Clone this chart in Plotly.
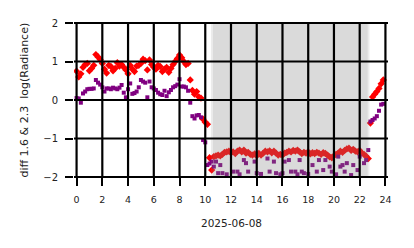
import plotly.graph_objects as go

# time grid (hours of 2025-06-08), 10-minute steps
hours = [i / 6 for i in range(144)]

red_vals = [
    # 0:00 - 9:50
    0.75, 0.60, 0.68, 0.85, 0.92, 0.95, 0.76, 0.82, 0.90, 1.18, 1.12, 1.05,
    0.95, 0.80, 0.70, 0.90, 0.87, 0.76, 0.82, 0.97, 0.88, 0.92, 0.85, 0.78,
    0.68, 0.90, 0.80, 0.74, 0.88, 0.90, 0.95, 1.06, 1.02, 0.78, 1.04, 0.92,
    0.85, 0.80, 0.90, 0.87, 0.74, 0.80, 0.85, 0.72, 0.82, 0.92, 1.00, 1.08,
    1.17, 1.10, 1.00, 0.92, 0.95, 0.52, 0.25, 0.15, 0.22, 0.08, 0.05, -0.50,
    # 10:00 - 10:30
    -0.58, -0.63, -1.50, -1.82,
    # night band 10:40 - 22:30
    -1.47, -1.45, -1.43, -1.45,
    -1.41, -1.36, -1.35, -1.33, -1.37, -1.35, -1.39,
    -1.33, -1.30, -1.35, -1.30, -1.38, -1.36, -1.41,
    -1.43, -1.40, -1.45, -1.39, -1.43, -1.38, -1.33,
    -1.35, -1.32, -1.37, -1.33, -1.38, -1.43, -1.41,
    -1.43, -1.38, -1.36, -1.33, -1.35, -1.31, -1.33,
    -1.30, -1.35, -1.39, -1.36, -1.38, -1.35, -1.40,
    -1.37, -1.39, -1.36, -1.38, -1.41, -1.37, -1.39,
    -1.43, -1.48, -1.50, -1.45, -1.41, -1.38, -1.33,
    -1.36, -1.31, -1.27, -1.25, -1.31, -1.28, -1.33,
    -1.35, -1.31, -1.38, -1.41, -1.46,
    # 22:40 - 23:50
    -1.52, -0.60, 0.08, 0.15, 0.22, 0.30, 0.42, 0.52,
]

purple_vals = [
    0.05, 0.04, -0.07, 0.17, 0.22, 0.28, 0.29, 0.29, 0.30, 0.52, 0.45, 0.40,
    0.33, 0.22, 0.30, 0.30, 0.28, 0.32, 0.30, 0.28, 0.32, 0.39, 0.19, 0.07,
    0.28, 0.43, 0.16, 0.18, 0.22, 0.33, 0.52, 0.48, 0.45, 0.07, 0.48, 0.33,
    0.30, 0.26, 0.19, 0.15, 0.13, 0.24, 0.10, 0.20, 0.26, 0.33, 0.36, 0.40,
    0.54, 0.35, 0.35, 0.33, 0.24, -0.07, -0.42, -0.48, -0.40, -0.39, -0.45, -1.04,
    -1.10, -1.69, -1.65, -1.60, -1.73, -1.60, -1.90, -1.69, -1.90, -2.20, -1.93, -2.30,
    -2.10, -1.86, -2.40, -1.86, -1.93, -2.20, -1.56, -1.64, -1.86, -2.30, -2.10, -1.60,
    -1.90, -2.20, -1.92, -2.40, -2.10, -1.52, -1.86, -2.30, -1.60, -1.90, -2.20, -1.93,
    -1.90, -1.60, -2.30, -1.56, -1.86, -2.20, -1.86, -1.93, -1.56, -1.86, -1.90, -2.30,
    -1.92, -2.10, -1.69, -2.40, -1.86, -1.56, -2.20, -1.82, -1.56, -2.30, -1.73, -1.86,
    -2.10, -1.93, -1.47, -1.73, -1.69, -1.86, -1.64, -2.20, -1.95, -1.69, -2.30, -1.82,
    -1.47, -2.10, -1.64, -1.56, -1.30, -0.56, -0.52, -0.48, -0.42, -0.28, -0.12, -0.10,
]

night_outer = [10.44, 22.76]
night_inner = [10.60, 22.62]

x_ticks = list(range(0, 25, 2))
y_ticks = [-2, -1, 0, 1, 2]
x_range = [-0.2, 24.2]
y_range = [-2, 2]

fig = go.Figure()
fig.add_trace(go.Scatter(
    x=hours, y=red_vals, mode="markers",
    marker=dict(symbol="diamond", size=5.6, color="#ff0000", line=dict(width=0)),
    showlegend=False,
))
fig.add_trace(go.Scatter(
    x=hours, y=purple_vals, mode="markers",
    marker=dict(symbol="square", size=4, color="#800080", line=dict(width=0)),
    showlegend=False,
))

shapes = []
for (a, b) in (night_outer, night_inner):
    shapes.append(dict(type="rect", xref="x", yref="paper", x0=a, x1=b, y0=0, y1=1,
                       fillcolor="rgba(128,128,128,0.16)", line=dict(width=0), layer="above"))
for xv in x_ticks:
    shapes.append(dict(type="line", xref="x", yref="paper", x0=xv, x1=xv, y0=0, y1=1,
                       line=dict(color="black", width=2.2), layer="above"))
for yv in y_ticks:
    yp = (yv - y_range[0]) / (y_range[1] - y_range[0])
    shapes.append(dict(type="line", xref="paper", yref="paper", x0=0, x1=1, y0=yp, y1=yp,
                       line=dict(color="black", width=2.2), layer="above"))

font = "DejaVu Sans"
fig.update_layout(
    width=414, height=248,
    margin=dict(l=74, r=26, t=23, b=71),
    paper_bgcolor="white", plot_bgcolor="white",
    font=dict(family=font, color="#222222"),
    shapes=shapes,
    xaxis=dict(range=x_range, tickvals=x_ticks, ticktext=[str(v) for v in x_ticks],
               showgrid=False, zeroline=False, showline=False,
               ticks="outside", ticklen=8, tickwidth=2, tickcolor="black",
               ticklabelstandoff=6,
               tickfont=dict(size=9.5, family=font, color="#222222")),
    yaxis=dict(range=y_range, tickvals=y_ticks,
               ticktext=["\u22122", "\u22121", "0", "1", "2"],
               showgrid=False, zeroline=False, showline=False,
               ticks="outside", ticklen=8, tickwidth=2, tickcolor="black",
               ticklabelstandoff=5,
               tickfont=dict(size=10, family=font, color="#222222")),
    annotations=[
        dict(text="diff 1.6 &amp; 2.3  log(Radiance)", xref="paper", yref="paper",
             x=(23.5 - 74) / 314, y=0.5, textangle=-90, showarrow=False,
             xanchor="center", yanchor="middle",
             font=dict(size=11, family=font, color="#222222")),
        dict(text="2025-06-08", xref="paper", yref="paper",
             x=0.5, y=-(223 - 177) / 154, showarrow=False,
             xanchor="center", yanchor="middle",
             font=dict(size=10.5, family=font, color="#222222")),
    ],
)
fig.write_html("out.html")
